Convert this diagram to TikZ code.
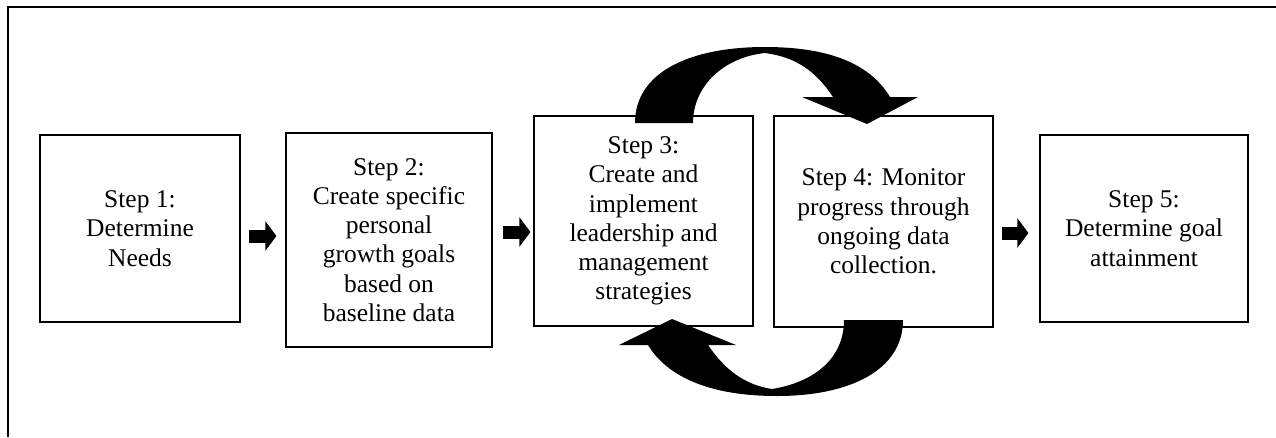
\documentclass[tikz,border=0pt]{standalone}
\usepackage{fontspec}
\setmainfont{Liberation Serif}
\usetikzlibrary{arrows.meta,calc}
\tikzset{
  stepbox/.style={draw,line width=1.2pt,inner sep=0pt,align=center,font=\fontsize{25.5}{29.3}\selectfont},
  blockarrow/.style={line width=13pt,-{Triangle[length=11pt,width=29pt]}},
  loopArrow/.style={fill=black,draw=none}
}
\begin{document}
\begin{tikzpicture}[x=1pt,y=-1pt]
            \useasboundingbox (0,0) rectangle (1276,437);
            \draw[line width=1.3pt] (8,437)--(8,7)--(1276,7);

            \node[stepbox,minimum width=200pt,minimum height=187pt] (s1) at (140,228.5) {Step 1:\\Determine\\Needs};
            \node[stepbox,minimum width=206pt,minimum height=214pt] (s2) at (389,240) {Step 2:\\Create specific\\personal\\growth goals\\based on\\baseline data};
            \node[stepbox,minimum width=219pt,minimum height=210pt] (s3) at (643.5,221) {Step 3:\\Create and\\implement\\leadership and\\management\\strategies};
            \node[stepbox,minimum width=219pt,minimum height=211pt] (s4) at (883.5,221.5) {Step 4: Monitor\\progress through\\ongoing data\\collection.};
            \node[stepbox,minimum width=208pt,minimum height=187pt] (s5) at (1144,228.5) {Step 5:\\Determine goal\\attainment};

            \draw[blockarrow] ($(s1.east |- 0,236)+(8,0)$) -- ($(s2.west |- 0,236)+(-9,0)$);
            \draw[blockarrow] ($(s2.east |- 0,232)+(10,0)$) -- ($(s3.west |- 0,232)+(-3,0)$);
            \draw[blockarrow] ($(s4.east |- 0,233)+(8,0)$) -- ($(s5.west |- 0,233)+(-11,0)$);

            \fill[loopArrow] (635,123) .. controls (635,72) and (690,47) .. (765,47)
                .. controls (835,47) and (872,67) .. (890,97)
                -- (918,97) -- (867,124) -- (802,97) -- (833,97)
                .. controls (815,70) and (795,57) .. (765,53)
                .. controls (725,57) and (693,85) .. (693,123) -- cycle;
            \fill[loopArrow] (903,320) .. controls (903,370) and (850,396) .. (777,396)
                .. controls (712,396) and (668,378) .. (648,345)
                -- (619,345) -- (672,319) -- (736,345) -- (708,345)
                .. controls (725,370) and (745,385) .. (772,389)
                .. controls (815,382) and (844,358) .. (844,320) -- cycle;
\end{tikzpicture}
\end{document}
